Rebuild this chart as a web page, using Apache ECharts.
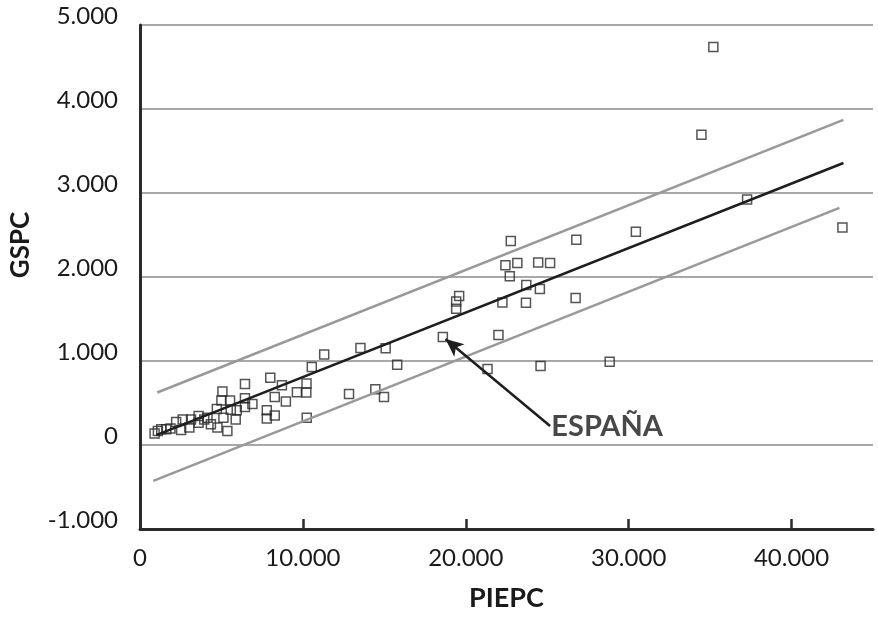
<!DOCTYPE html>
<html>
<head>
<meta charset="utf-8">
<script src="https://cdn.jsdelivr.net/npm/echarts@6/dist/echarts.min.js"></script>
<style>
  html, body { margin: 0; padding: 0; background: #fff; }
  #main { width: 878px; height: 617px; }
</style>
</head>
<body>
<div id="main"></div>
<script>
// puntos PIEPC / GSPC
var piepc = [896, 1097, 1305, 1609, 1871, 2219, 2524, 2621, 3030, 3133,
  3597, 3597, 3944, 4145, 4353, 4718, 4755, 5060, 4999, 5121,
  5364, 5529, 5572, 5876, 5938, 6443, 6443, 6443, 6901, 7785,
  7785, 7998, 8272, 8272, 8711, 8955, 9632, 10223, 10211, 10235,
  10546, 11308, 12832, 13533, 14448, 14978, 15082, 15789, 18593, 19410,
  19410, 19593, 21336, 22007, 22251, 22434, 22702, 22763, 23165, 23714,
  23695, 24445, 24591, 24549, 25177, 26743, 26786, 28834, 30443, 34467,
  35199, 37271, 43123];
var gspc = [137, 168, 187, 187, 195, 274, 180, 304, 207, 304,
  344, 266, 304, 324, 246, 429, 207, 636, 531, 324,
  168, 531, 421, 304, 414, 725, 558, 453, 488, 414,
  316, 801, 351, 570, 712, 519, 628, 733, 626, 324,
  929, 1076, 607, 1154, 663, 570, 1151, 956, 1287, 1622,
  1708, 1774, 905, 1310, 1696, 2140, 2008, 2429, 2168, 1906,
  1692, 2172, 940, 1856, 2168, 1751, 2444, 991, 2540, 3692,
  4737, 2924, 2589];

// recta de regresion y bandas
var regLine = [[1000, 117], [43184, 3357]];
var upperBand = [[1061, 625], [43184, 3871]];
var lowerBand = [[817, -428], [42940, 2823]];

// flecha y etiqueta de España
var arrowTail = [25176, 227];
var arrowTip = [18757, 1262];
var labelPos = [25250, 222];
var labelText = 'ESPAÑA';

var xTicks = [0, 10000, 20000, 30000, 40000];
var yTicks = [-1000, 0, 1000, 2000, 3000, 4000, 5000];

function fmt(v) {
	var s = String(Math.abs(v));
	s = s.replace(/\B(?=(\d{3})+(?!\d))/g, '.');
	return (v < 0 ? '-' : '') + s;
}

var points = [];
for (var i = 0; i < piepc.length; i++) {
	points.push([piepc[i], gspc[i]]);
}

var font = 'Lato, "Open Sans", sans-serif';
var myChart = echarts.init(document.getElementById('main'));
myChart.setOption({
	animation: false,
	backgroundColor: '#fff',
	grid: { left: 135, right: 5, top: 25, bottom: 82 },
	xAxis: {
		type: 'value',
		min: xTicks[0],
		max: 45000,
		interval: 10000,
		name: 'PIEPC',
		nameLocation: 'middle',
		nameGap: 56,
		nameTextStyle: { fontFamily: font, fontSize: 27, fontWeight: 'bold', color: '#1a1a1a' },
		axisLine: { onZero: false, lineStyle: { color: '#2a2a2a', width: 3 } },
		axisTick: { show: true, inside: true, length: 10, lineStyle: { color: '#2a2a2a', width: 2.5 } },
		axisLabel: { fontFamily: font, fontSize: 24, color: '#1a1a1a', margin: 17, showMaxLabel: false,
			formatter: function(v) { return fmt(v); } },
		splitLine: { show: false }
	},
	yAxis: {
		type: 'value',
		min: yTicks[0],
		max: yTicks[yTicks.length - 1],
		interval: 1000,
		name: 'GSPC',
		nameLocation: 'middle',
		nameRotate: 90,
		nameGap: 106,
		nameTextStyle: { fontFamily: font, fontSize: 26, fontWeight: 'bold', color: '#1a1a1a', padding: [0, 0, 0, 64] },
		axisLine: { show: true, onZero: false, lineStyle: { color: '#2a2a2a', width: 3 } },
		axisTick: { show: false },
		axisLabel: { fontFamily: font, fontSize: 24, color: '#1a1a1a', margin: 22,
			verticalAlign: 'bottom', lineHeight: 17,
			formatter: function(v) { return fmt(v); } },
		splitLine: { show: true, lineStyle: { color: '#a8a8a8', width: 2 } }
	},
	series: [
		{
			type: 'line', data: upperBand, symbol: 'none', silent: true,
			lineStyle: { color: '#999', width: 2.5 }
		},
		{
			type: 'line', data: lowerBand, symbol: 'none', silent: true,
			lineStyle: { color: '#999', width: 2.5 }
		},
		{
			type: 'line', data: regLine, symbol: 'none', silent: true,
			lineStyle: { color: '#1e1e1e', width: 2.5 }
		},
		{
			type: 'scatter', data: points, symbol: 'rect', symbolSize: 9,
			itemStyle: { color: 'rgba(255,255,255,0)', borderColor: '#2b2b2b', borderWidth: 1.5 },
			markLine: {
				silent: true,
				symbol: ['none', 'arrow'],
				symbolSize: [12, 18],
				label: { show: false },
				lineStyle: { color: '#1e1e1e', width: 2.5, type: 'solid' },
				data: [[{ coord: arrowTail }, { coord: arrowTip }]]
			}
		},
		{
			type: 'scatter', data: [labelPos], symbolSize: 0, silent: true,
			label: {
				show: true, position: 'right', distance: 0, formatter: labelText,
				fontFamily: font, fontSize: 29, fontWeight: 'bold', color: '#1a1a1a'
			}
		}
	]
});
</script>
</body>
</html>
